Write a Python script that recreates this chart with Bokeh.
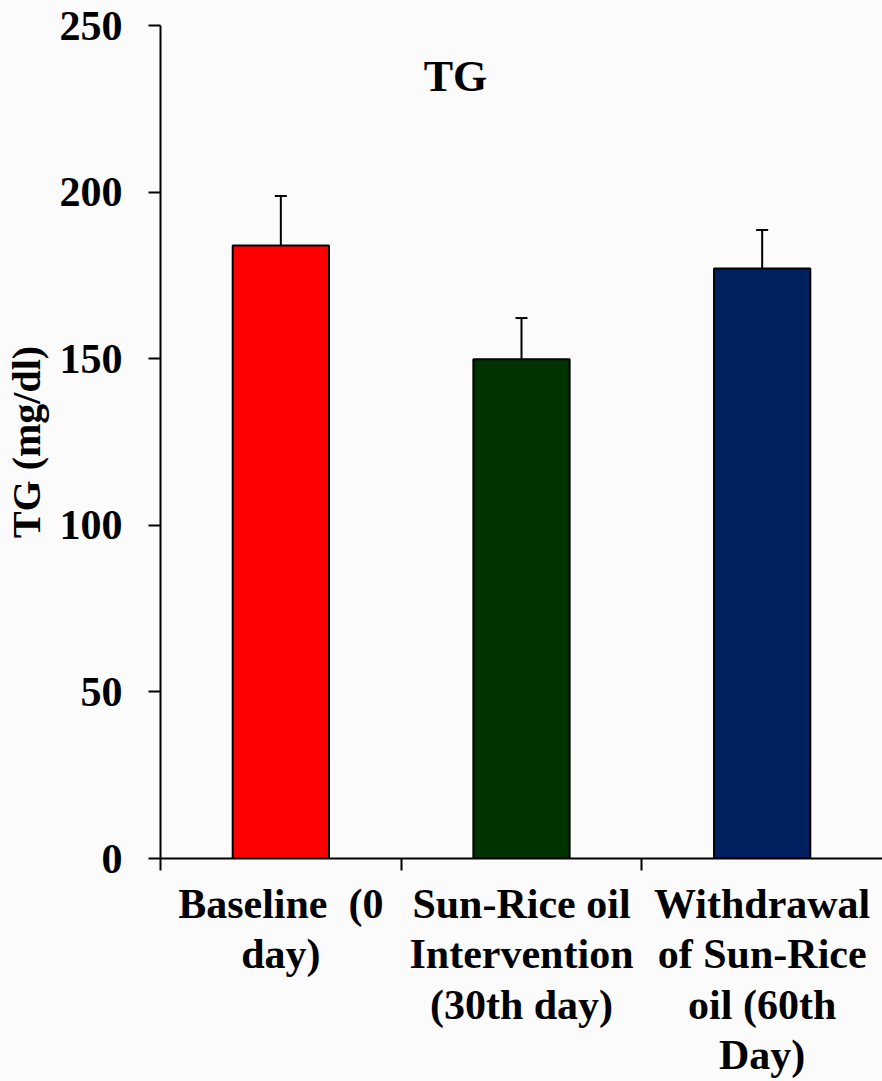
from bokeh.plotting import figure
from bokeh.models import FixedTicker, Whisker, TeeHead, ColumnDataSource, Label, Range1d
from bokeh.embed import file_html
from bokeh.resources import INLINE

categories = ["Baseline \u00a0(0\nday)", "Sun-Rice oil\nIntervention\n(30th day)", "Withdrawal\nof Sun-Rice\noil (60th\nDay)"]
means = [184.0, 149.8, 177.1]
errors = [14.8, 12.4, 11.5]
colors = ["#ff0000", "#003300", "#002060"]
y_ticks = [0, 50, 100, 150, 200, 250]

xs = [i + 0.5 for i in range(len(categories))]
bg = "#fbfbfb"
font = "Liberation Serif"

p = figure(width=882, height=1081, output_backend="svg", toolbar_location=None,
           x_range=Range1d(0, 3.0), y_range=Range1d(0, 250),
           min_border_left=160, min_border_right=0, min_border_top=25, min_border_bottom=222,
           background_fill_color=bg, border_fill_color=bg, outline_line_color=None)
p.xgrid.visible = False
p.ygrid.visible = False

src = ColumnDataSource(dict(x=xs, top=means, upper=[m + e for m, e in zip(means, errors)], color=colors))
p.vbar(x="x", top="top", width=0.4, bottom=0, fill_color="color", line_color="black", line_width=2, source=src)
w = Whisker(base="x", lower="top", upper="upper", source=src, line_color="black", line_width=2,
            upper_head=TeeHead(size=12, line_width=2, line_color="black"), lower_head=None)
p.add_layout(w)

# x axis
p.xaxis.ticker = FixedTicker(ticks=xs, minor_ticks=[0, 1, 2])
p.xaxis.major_label_overrides = {x: c for x, c in zip(xs, categories)}
p.xaxis.major_tick_out = 0
p.xaxis.major_tick_in = 0
p.xaxis.minor_tick_out = 12
p.xaxis.minor_tick_in = 0
p.xaxis.minor_tick_line_width = 2
p.xaxis.minor_tick_line_color = "black"
p.xaxis.axis_line_width = 2
p.xaxis.axis_line_color = "black"
p.xaxis.major_label_text_font = font
p.xaxis.major_label_text_font_style = "bold"
p.xaxis.major_label_text_font_size = "42px"
p.xaxis.major_label_text_color = "black"
p.xaxis.major_label_text_line_height = 1.1
p.xaxis.major_label_standoff = 10

# y axis
p.yaxis.ticker = FixedTicker(ticks=y_ticks, minor_ticks=[])
p.yaxis.major_tick_out = 12
p.yaxis.major_tick_in = 0
p.yaxis.major_tick_line_width = 2
p.yaxis.axis_line_width = 2
p.yaxis.axis_line_color = "black"
p.yaxis.major_label_text_font = font
p.yaxis.major_label_text_font_style = "bold"
p.yaxis.major_label_text_font_size = "42px"
p.yaxis.major_label_text_color = "black"
p.yaxis.major_label_standoff = 26
p.yaxis.axis_label = "TG (mg/dl)"
p.yaxis.axis_label_text_font = font
p.yaxis.axis_label_text_font_style = "bold"
p.yaxis.axis_label_text_font_size = "40px"
p.yaxis.axis_label_text_color = "black"
p.yaxis.axis_label_standoff = 8

title = Label(x=1.226, y=234.7, text="TG", text_font=font, text_font_style="bold",
              text_font_size="44px", text_align="center", text_baseline="middle", text_color="black")
p.add_layout(title)

open("out.html", "w").write(file_html(p, INLINE))
